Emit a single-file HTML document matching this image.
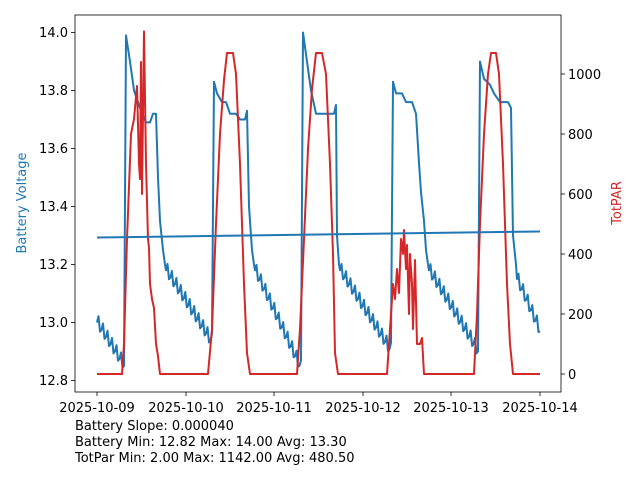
<!DOCTYPE html>
<html><head><style>
body{margin:0;background:#fff;}
svg text{font-family:"DejaVu Sans","Liberation Sans",sans-serif;}
</style></head><body>
<svg id="s" width="640" height="480" viewBox="0 0 640 480" xmlns="http://www.w3.org/2000/svg">
<g font-size="13" fill="#000">
<text x="68" y="37" text-anchor="end">14.0</text>
<text x="68" y="95" text-anchor="end">13.8</text>
<text x="68" y="153" text-anchor="end">13.6</text>
<text x="68" y="211" text-anchor="end">13.4</text>
<text x="68" y="269" text-anchor="end">13.2</text>
<text x="68" y="327" text-anchor="end">13.0</text>
<text x="68" y="385" text-anchor="end">12.8</text>
<text x="568" y="79">1000</text>
<text x="568" y="139">800</text>
<text x="568" y="199">600</text>
<text x="568" y="259">400</text>
<text x="568" y="319">200</text>
<text x="568" y="379">0</text>
<text x="97" y="412" text-anchor="middle">2025-10-09</text>
<text x="186" y="412" text-anchor="middle">2025-10-10</text>
<text x="274" y="412" text-anchor="middle">2025-10-11</text>
<text x="363" y="412" text-anchor="middle">2025-10-12</text>
<text x="451" y="412" text-anchor="middle">2025-10-13</text>
<text x="540" y="412" text-anchor="middle">2025-10-14</text>
<text x="75" y="430">Battery Slope: 0.000040</text>
<text x="75" y="446">Battery Min: 12.82 Max: 14.00 Avg: 13.30</text>
<text x="75" y="462">TotPar Min: 2.00 Max: 1142.00 Avg: 480.50</text>
<text transform="translate(26,203) rotate(-90)" text-anchor="middle" fill="#1f77b4">Battery Voltage</text>
<text transform="translate(621,203) rotate(-90)" text-anchor="middle" fill="#d62728">TotPAR</text>
</g>
<g stroke="#000" stroke-width="0.8">
<line x1="75" y1="32.5" x2="71" y2="32.5"/><line x1="75" y1="90.5" x2="71" y2="90.5"/><line x1="75" y1="148.5" x2="71" y2="148.5"/><line x1="75" y1="206.5" x2="71" y2="206.5"/><line x1="75" y1="264.5" x2="71" y2="264.5"/><line x1="75" y1="322.5" x2="71" y2="322.5"/><line x1="75" y1="380.5" x2="71" y2="380.5"/>
<line x1="561" y1="74" x2="565" y2="74"/><line x1="561" y1="134" x2="565" y2="134"/><line x1="561" y1="194" x2="565" y2="194"/><line x1="561" y1="254" x2="565" y2="254"/><line x1="561" y1="314" x2="565" y2="314"/><line x1="561" y1="374" x2="565" y2="374"/>
<line x1="97" y1="392" x2="97" y2="396"/><line x1="186" y1="392" x2="186" y2="396"/><line x1="274" y1="392" x2="274" y2="396"/><line x1="363" y1="392" x2="363" y2="396"/><line x1="451" y1="392" x2="451" y2="396"/><line x1="540" y1="392" x2="540" y2="396"/>
</g>
<g id="d" fill="none" stroke-width="2" stroke-linejoin="round"></g>
<rect x="75" y="15" width="486" height="377" fill="none" stroke="#000" stroke-width="0.8"/>
</svg>
<script>
function vy(v){return 32.5+(14-v)*290;}
function py(p){return 374-0.3*p;}
var B=[];
function saw(x0,v0,x1,v1){var n=Math.round((x1-x0)/1.5);for(var i=0;i<=n;i++){var x=x0+(x1-x0)*i/n;var v=v0+(v1-v0)*i/n+((i%3==1)?0.03:(i%3==2)?-0.015:0);B.push([x,vy(v)]);}}
function pts(a){a.forEach(function(p){B.push([p[0],vy(p[1])]);});}
saw(97,13.0,124,12.85);
pts([[126,13.99],[130,13.9],[134,13.8],[138,13.76],[142,13.72],[146,13.69],[150,13.69],[153,13.72],[156,13.72],[158,13.5],[160,13.35],[163,13.25],[165,13.2]]);
saw(166,13.18,212,12.93);
pts([[214,13.83],[217,13.79],[222,13.76],[226,13.76],[230,13.72],[236,13.72],[240,13.7],[245,13.7],[247,13.73],[249,13.4],[252,13.25],[254,13.2]]);
saw(255,13.18,301,12.84);
pts([[303,14.0],[307,13.9],[311,13.8],[316,13.72],[330,13.72],[334,13.72],[336,13.75],[337,13.3],[339,13.2]]);
saw(340,13.18,391,12.9);
pts([[393,13.83],[396,13.79],[402,13.79],[406,13.76],[412,13.76],[416,13.72],[419,13.55],[421,13.45],[424,13.35],[426,13.25],[428,13.2]]);
saw(429,13.18,478,12.9);
pts([[480,13.9],[484,13.84],[490,13.82],[494,13.79],[500,13.76],[508,13.76],[511,13.74],[513,13.3],[516,13.2]]);
saw(517,13.15,540,12.97);
var P=[[97,0],[122,0],[124,100],[127,450],[131,800],[134,850],[137,960],[139,700],[140,650],[141,1040],[142,600],[144,1142],[146,700],[148,450],[149,420],[150,300],[152,250],[154,220],[156,100],[158,60],[160,0],
[208,0],[212,150],[216,500],[220,800],[224,980],[227,1070],[233,1070],[236,1000],[240,700],[244,300],[247,70],[250,0],
[297,0],[300,150],[304,450],[308,750],[312,950],[316,1070],[322,1070],[326,1000],[330,700],[333,400],[335,70],[338,0],
[387,0],[390,150],[393,300],[395,250],[397,350],[399,270],[401,450],[403,400],[404,480],[406,350],[407,430],[409,200],[410,400],[412,300],[413,150],[415,380],[417,100],[420,100],[422,120],[424,0],
[474,0],[477,200],[480,500],[484,800],[488,1000],[491,1070],[496,1070],[499,1000],[503,700],[507,300],[510,100],[513,0],[540,0]];
function path(a,c){var p=document.createElementNS("http://www.w3.org/2000/svg","polyline");p.setAttribute("points",a.map(function(q){return q[0].toFixed(1)+","+q[1].toFixed(1)}).join(" "));p.setAttribute("stroke",c);document.getElementById("d").appendChild(p);}
path(B,"#1f77b4");
path(P.map(function(q){return [q[0],py(q[1])]}),"#d62728");
path([[97,237.5],[540,231.5]],"#1f77b4");
</script>
</body></html>
